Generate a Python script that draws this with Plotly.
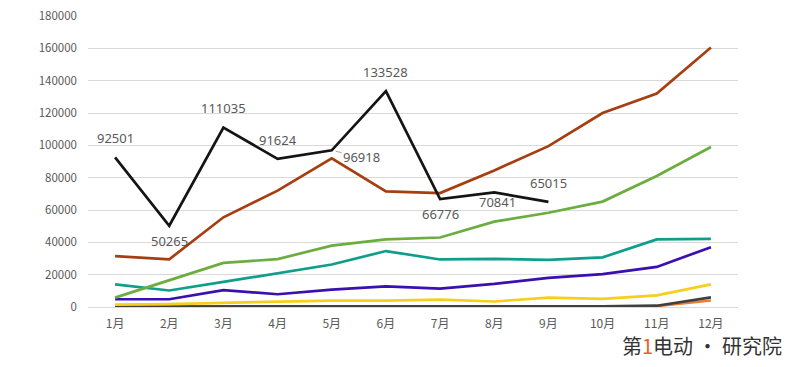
import plotly.graph_objects as go

months = ["1月", "2月", "3月", "4月", "5月", "6月", "7月", "8月", "9月", "10月", "11月", "12月"]

s_black = [92501, 50265, 111035, 91624, 96918, 133528, 66776, 70841, 65015, None, None, None]
s_brown = [31500, 29500, 55500, 72000, 92000, 71500, 70500, 84500, 99500, 120000, 132000, 160500]
s_green = [5800, 16500, 27300, 29600, 38000, 41800, 43000, 52800, 58300, 65200, 81000, 99000]
s_teal = [14000, 10200, 15500, 20700, 26300, 34600, 29400, 29800, 29200, 30700, 41800, 42200]
s_purple = [4800, 4800, 10400, 7900, 10800, 12700, 11400, 14300, 18000, 20300, 24800, 37000]
s_yellow = [1500, 1800, 2600, 3500, 4000, 4000, 4600, 3400, 5800, 5000, 7200, 14000]
s_gray = [300, 300, 300, 300, 300, 300, 300, 300, 300, 400, 800, 6000]
s_orange = [0, 0, 0, 0, 0, 0, 0, 0, 0, 200, 600, 4000]

label_pos = ["above", "below", "above", "above", "right", "above", "below", "below2", "above"]

fig = go.Figure()
series = [
    (s_orange, "#ed7d31"),
    (s_gray, "#404040"),
    (s_yellow, "#f6cf1c"),
    (s_purple, "#3a10b0"),
    (s_teal, "#0f9e8a"),
    (s_green, "#6cad3f"),
    (s_brown, "#a53e10"),
    (s_black, "#141414"),
]
for vals, col in series:
    fig.add_trace(go.Scatter(x=months, y=vals, mode="lines",
                             line=dict(color=col, width=2.7),
                             connectgaps=False, hoverinfo="skip"))

annotations = []
for i, v in enumerate(s_black):
    if v is None:
        continue
    p = label_pos[i]
    a = dict(x=months[i], y=v, text=str(v), xref="x", yref="y",
             font=dict(family="Noto Sans, Liberation Sans, sans-serif", size=13, color="#595959"))
    if p == "above":
        a.update(showarrow=False, yshift=19)
    elif p == "below":
        a.update(showarrow=False, yshift=-15)
    elif p == "below2":
        a.update(showarrow=False, yshift=-10, xshift=3)
    else:
        a.update(showarrow=True, ax=30, ay=7, arrowhead=0, arrowwidth=1,
                 arrowcolor="#a6a6a6", standoff=4)
    annotations.append(a)

annotations.append(dict(
    xref="paper", yref="paper", x=1.07, y=-0.19, xanchor="right", yanchor="bottom",
    text="第<span style='color:#e8641b'>1</span>电动 • 研究院", showarrow=False,
    font=dict(family="Noto Sans CJK SC", size=20, color="#333333")))

fig.update_layout(
    width=800, height=367,
    margin=dict(l=88, r=62, t=16, b=60),
    paper_bgcolor="white", plot_bgcolor="white",
    showlegend=False,
    annotations=annotations,
    font=dict(family="Noto Sans CJK SC, Noto Sans, sans-serif", size=11.5, color="#595959"),
    xaxis=dict(showgrid=False, showline=False, zeroline=False, ticks="",
               range=[-0.5, 11.5], automargin=False,
               tickfont=dict(size=12, color="#595959"), ticklabelstandoff=8),
    yaxis=dict(range=[0, 180000], dtick=20000, showgrid=True, gridcolor="#d9d9d9",
               gridwidth=1, zeroline=True, zerolinecolor="#d9d9d9", zerolinewidth=1,
               showline=False, tickformat="d", ticks="", automargin=False,
               tickfont=dict(size=11.5, color="#595959"), ticklabelstandoff=10),
)

fig.write_html("out.html", config={"displayModeBar": False},
               post_script="document.body.style.margin='0';document.body.style.overflow='hidden';")
